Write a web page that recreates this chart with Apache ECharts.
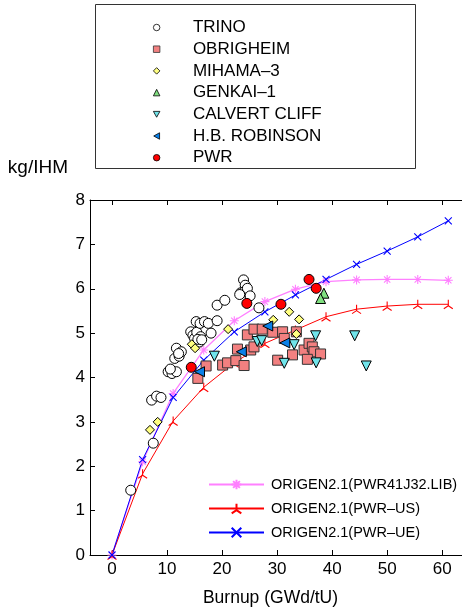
<!DOCTYPE html>
<html><head><meta charset="utf-8">
<script src="https://cdn.jsdelivr.net/npm/echarts@6/dist/echarts.min.js"></script>
<style>html,body{margin:0;padding:0;background:#fff}#c{width:462px;height:613px}</style>
</head><body><div id="c"></div>
<script>
const FONT = "'Liberation Sans', Arial, Helvetica, sans-serif";

// axis ticks
const xTicks = [0, 10, 20, 30, 40, 50, 60];
const yMin = 0, yMax = 8, yStep = 1;

// ORIGEN2.1 calculation curves
const calcBurnup = [0, 5.56, 11.11, 16.67, 22.22, 27.78, 33.33, 38.89, 44.44, 50.0, 55.56, 61.11];
const pwr41j32 = [0, 2.10, 3.64, 4.62, 5.28, 5.71, 5.99, 6.16, 6.20, 6.21, 6.21, 6.19];
const pwrUS    = [0, 1.83, 3.02, 3.78, 4.33, 4.77, 5.07, 5.37, 5.54, 5.61, 5.65, 5.65];
const pwrUE    = [0, 2.15, 3.55, 4.39, 5.03, 5.48, 5.86, 6.21, 6.55, 6.85, 7.17, 7.53];

// measured data [burnup, kg/IHM]
const trino = [[3.4,1.46],[7.5,2.52],[7.2,3.49],[8.1,3.58],[8.9,3.55],
  [10.2,4.13],[10.9,4.09],[11.7,4.13],[10.6,4.19],
  [11.4,4.43],[12.2,4.48],[11.7,4.66],[12.6,4.58],[12.1,4.54],
  [14.3,5.03],[14.7,4.95],[15.0,4.88],[15.4,5.02],[16.1,4.92],[15.9,4.80],[15.6,4.86],[16.3,4.85],
  [15.3,5.26],[16.0,5.22],[16.8,5.26],[17.5,5.22],[18.0,5.00],[19.1,5.28],
  [19.1,5.63],[20.5,5.74],
  [23.9,6.20],[24.2,6.08],[23.4,5.91],[24.0,5.93],[24.6,6.01],[25.1,5.84],[23.2,5.87],
  [26.7,5.57]];
const obrigheim = [[15.6,3.98],[17.1,4.26],[20.1,4.28],[21.0,4.33],[22.5,4.38],[24.0,4.27],
  [22.8,4.64],[25.2,4.62],[25.8,4.69],[24.6,4.96],[25.8,5.09],[27.3,5.09],[29.2,5.02],
  [31.0,5.03],[31.3,4.88],[33.5,5.03],[30.1,4.39],[32.8,4.51],[34.9,4.62],[35.8,4.77],
  [36.4,4.69],[36.7,4.58],[37.9,4.53],[35.5,4.41]];
const mihama3 = [[6.9,2.82],[8.3,3.00],[14.5,4.75],[15.1,4.66],[21.1,5.09],[29.3,5.30],[32.2,5.48],[34.0,5.31],[33.5,4.98]];
const genkai1 = [[38.5,5.90],[37.9,5.78]];
const calvertCliff = [[18.6,4.48],[26.4,4.81],[27.2,4.83],[33.1,4.74],[37.0,4.94],[31.3,4.32],[37.1,4.33],[44.1,4.94],[46.2,4.26]];
const hbRobinson = [[15.9,4.13],[23.5,4.58],[28.3,5.16],[31.4,4.78]];
const pwr = [[14.4,4.23],[24.5,5.67],[30.7,5.65],[35.8,6.21],[37.1,6.01]];

const scatterNames = ['TRINO','OBRIGHEIM','MIHAMA\u20133','GENKAI\u20131','CALVERT CLIFF','H.B. ROBINSON','PWR'];
const lineNames = ['ORIGEN2.1(PWR41J32.LIB)','ORIGEN2.1(PWR\u2013US)','ORIGEN2.1(PWR\u2013UE)'];

const pair = (xs, ys) => xs.map((x, i) => [x, ys[i]]);

const SYM_AST = 'path://M0,-1L0,1M-1,0L1,0M-0.7,-0.7L0.7,0.7M-0.7,0.7L0.7,-0.7';
const SYM_TRI = 'path://M0,0L0,-1M0,0L-0.87,0.5M0,0L0.87,0.5';
const SYM_X = 'path://M-1,-1L1,1M-1,1L1,-1';
const SYM_DOWN = 'path://M0,0L10,0L5,9Z';
const SYM_LEFT = 'path://M9,0L9,10L0,5Z';

function lineSeries(name, ys, color, sym, size, width) {
  return {
    type: 'line', name, data: pair(calcBurnup, ys), symbol: sym, symbolSize: size,
    showSymbol: true, z: 2,
    lineStyle: { color, width },
    itemStyle: { color, borderColor: color, borderWidth: 1.1 },
    emphasis: { disabled: true }, animation: false
  };
}
function scat(name, data, symbol, size, fill, border) {
  return {
    type: 'scatter', name, data, symbol, symbolSize: size, z: 3,
    itemStyle: { color: fill, borderColor: border || '#000', borderWidth: 1, opacity: 1 },
    emphasis: { disabled: true }, animation: false
  };
}

const chart = echarts.init(document.getElementById('c'), null, { renderer: 'canvas' });
chart.setOption({
  animation: false,
  backgroundColor: '#fff',
  textStyle: { fontFamily: FONT },
  grid: { left: 90, right: 0, top: 200, bottom: 58, containLabel: false },
  graphic: [{
    type: 'rect', shape: { x: 95.5, y: 4.5, width: 320, height: 164 },
    style: { fill: 'none', stroke: '#333', lineWidth: 1 }, silent: true
  }],
  legend: [{
    data: scatterNames, orient: 'vertical', left: 153, top: 19, padding: 0,
    itemWidth: 6.5, itemHeight: 6.5, itemGap: 4.7, selectedMode: false,
    itemStyle: { borderWidth: 0.8 },
    textStyle: { fontSize: 17, color: '#000', fontFamily: FONT, padding: [0, 0, 0, 28] }
  }, {
    data: lineNames, orient: 'vertical', left: 208, top: 477, padding: 0,
    itemWidth: 55, itemHeight: 12, itemGap: 9, selectedMode: false,
    textStyle: { fontSize: 14.5, color: '#000', fontFamily: FONT, padding: [0, 0, 0, 2] }
  }],
  xAxis: [{
    type: 'value', min: -4, max: 63.6, position: 'bottom',
    name: 'Burnup (GWd/tU)', nameLocation: 'middle', nameGap: 34,
    nameTextStyle: { fontSize: 17.5, color: '#000', fontFamily: FONT, padding: [0, 11, 0, 0] },
    axisLine: { show: true, onZero: false, lineStyle: { color: '#000', width: 1 } },
    axisTick: { show: true, inside: true, length: 5, customValues: xTicks, lineStyle: { color: '#000' } },
    axisLabel: { customValues: xTicks, fontSize: 17, color: '#000', margin: 6, fontFamily: FONT },
    splitLine: { show: false }
  }, {
    type: 'value', min: -4, max: 63.6, position: 'top',
    axisLine: { show: true, onZero: false, lineStyle: { color: '#000', width: 1 } },
    axisTick: { show: true, inside: true, length: 5, customValues: xTicks, lineStyle: { color: '#000' } },
    axisLabel: { show: false },
    splitLine: { show: false }
  }],
  yAxis: {
    type: 'value', min: yMin, max: yMax, interval: yStep,
    name: 'kg/IHM', nameLocation: 'end', nameGap: 32,
    nameTextStyle: { fontSize: 19, color: '#000', fontFamily: FONT, align: 'right', verticalAlign: 'middle', padding: [0, 22, 0, 0] },
    axisLine: { show: true, onZero: false, lineStyle: { color: '#000', width: 1 } },
    axisTick: { show: true, inside: true, length: 5, lineStyle: { color: '#000' } },
    axisLabel: { fontSize: 17, color: '#000', margin: 5, fontFamily: FONT },
    splitLine: { show: false }
  },
  series: [
    lineSeries(lineNames[0], pwr41j32, '#ff80ff', SYM_AST, 9, 1.3),
    lineSeries(lineNames[1], pwrUS, '#ff0000', SYM_TRI, 9, 1),
    lineSeries(lineNames[2], pwrUE, '#0000ff', SYM_X, 7, 1),
    scat(scatterNames[0], trino, 'circle', 10, '#ffffff'),
    scat(scatterNames[1], obrigheim, 'rect', 10, '#f28080', '#333'),
    scat(scatterNames[2], mihama3, 'diamond', 9, '#ffff80'),
    scat(scatterNames[3], genkai1, 'triangle', 10, '#80e080'),
    scat(scatterNames[4], calvertCliff, SYM_DOWN, 10, '#70e4ea'),
    scat(scatterNames[5], hbRobinson, SYM_LEFT, 10, '#0a80e8'),
    scat(scatterNames[6], pwr, 'circle', 10, '#ff0000')
  ]
});
</script></body></html>
